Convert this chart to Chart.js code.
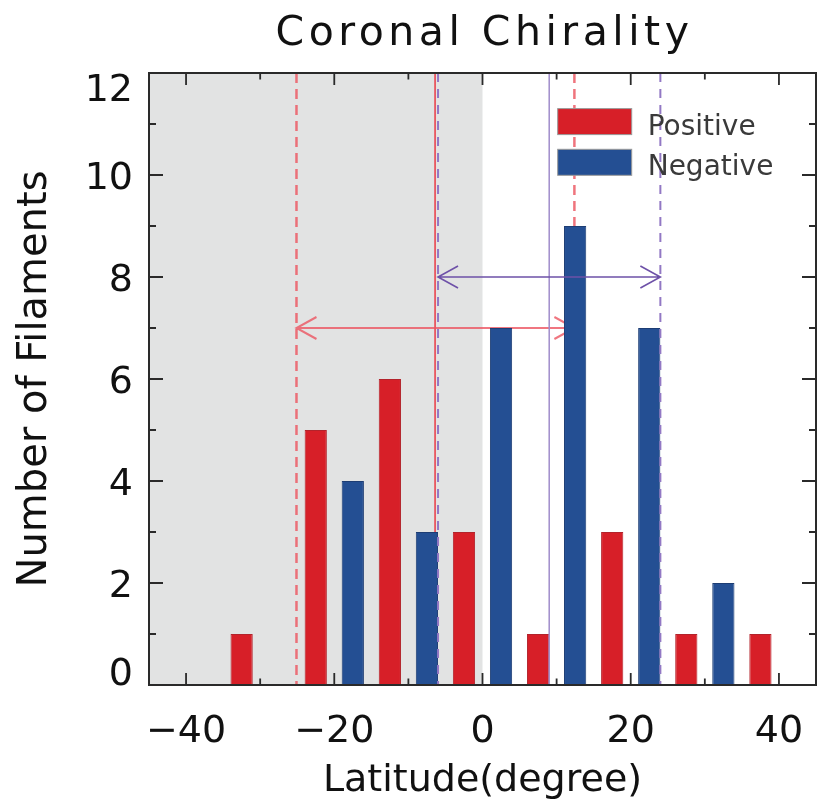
<!DOCTYPE html>
<html>
<head>
<meta charset="utf-8">
<script src="https://cdn.jsdelivr.net/npm/chart.js@4.4.0/dist/chart.umd.min.js"></script>
<style>
  html, body { margin: 0; padding: 0; background: #fff; }
</style>
</head>
<body>
<canvas id="chart" width="817" height="804"></canvas>
<script>
// histogram bars (bin centre in degrees, number of filaments)
const positiveLat = [-32.5, -22.5, -12.5, -2.5, 7.5, 17.5, 27.5, 37.5];
const positiveCount = [1, 5, 6, 3, 1, 3, 1, 1];
const negativeLat = [-17.5, -7.5, 2.5, 12.5, 22.5, 32.5];
const negativeCount = [4, 3, 7, 9, 7, 2];

// mean (solid) and spread (dashed + arrow) markers
const positiveMean = -6.4;
const positiveRange = [-25.1, 12.4];
const positiveArrowY = 7;
const negativeMean = 9.0;
const negativeRange = [-6.0, 24.0];
const negativeArrowY = 8;

// southern hemisphere shading
const southShade = [-45, 0];

const xMajorTicks = [-40, -20, 0, 20, 40];
const xMinorTicks = [-30, -10, 10, 30];
const yMajorTicks = [0, 2, 4, 6, 8, 10, 12];
const yMinorTicks = [1, 3, 5, 7, 9, 11];

const FONT = "'DejaVu Sans', sans-serif";
const RED = '#d71f28';
const BLUE = '#244f93';

function vline(ctx, area, x, color, width, dash) {
    ctx.save();
    ctx.strokeStyle = color;
    ctx.lineWidth = width;
    ctx.setLineDash(dash || []);
    ctx.beginPath();
    ctx.moveTo(x, area.top);
    ctx.lineTo(x, area.bottom);
    ctx.stroke();
    ctx.restore();
}

function arrow(ctx, x1, x2, y, color, width) {
    const hl = 20, hw = 11;
    ctx.save();
    ctx.strokeStyle = color;
    ctx.lineWidth = width;
    ctx.beginPath();
    ctx.moveTo(x1, y); ctx.lineTo(x2, y);
    ctx.moveTo(x1 + hl, y - hw); ctx.lineTo(x1, y); ctx.lineTo(x1 + hl, y + hw);
    ctx.moveTo(x2 - hl, y - hw); ctx.lineTo(x2, y); ctx.lineTo(x2 - hl, y + hw);
    ctx.stroke();
    ctx.restore();
}

const decor = {
    id: 'decor',
    beforeDatasetsDraw(chart) {
        const { ctx, chartArea: a, scales: { x, y } } = chart;
        // shaded band
        const s0 = x.getPixelForValue(southShade[0]);
        const s1 = x.getPixelForValue(southShade[1]);
        ctx.save();
        ctx.fillStyle = '#e2e3e3';
        ctx.fillRect(s0, a.top, s1 - s0, a.bottom - a.top);
        ctx.restore();

        // positive chirality markers (behind bars)
        positiveRange.forEach(v => vline(ctx, a, x.getPixelForValue(v), 'rgba(236,92,102,0.85)', 2.5, [10, 6]));
        vline(ctx, a, x.getPixelForValue(positiveMean), '#ea3a45', 1.5);
        arrow(ctx, x.getPixelForValue(positiveRange[0]), x.getPixelForValue(positiveRange[1]),
            y.getPixelForValue(positiveArrowY), 'rgba(236,84,96,0.8)', 2);
    },
    afterDatasetsDraw(chart) {
        const { ctx, chartArea: a, scales: { x, y } } = chart;

        // negative chirality markers (over bars)
        negativeRange.forEach(v => vline(ctx, a, x.getPixelForValue(v), '#9278c4', 2, [9, 7]));
        vline(ctx, a, x.getPixelForValue(negativeMean), '#a08dcb', 1.5);
        arrow(ctx, x.getPixelForValue(negativeRange[0]), x.getPixelForValue(negativeRange[1]),
            y.getPixelForValue(negativeArrowY), '#6e51a8', 1.6);

        ctx.save();
        // frame
        ctx.strokeStyle = '#2a2a2a';
        ctx.lineWidth = 2;
        ctx.strokeRect(a.left, a.top, a.right - a.left, a.bottom - a.top);

        // inward ticks on all four sides
        ctx.lineWidth = 1.8;
        ctx.beginPath();
        const xt = (v, len) => {
            const px = x.getPixelForValue(v);
            ctx.moveTo(px, a.bottom); ctx.lineTo(px, a.bottom - len);
            ctx.moveTo(px, a.top); ctx.lineTo(px, a.top + len);
        };
        const yt = (v, len) => {
            const py = y.getPixelForValue(v);
            ctx.moveTo(a.left, py); ctx.lineTo(a.left + len, py);
            ctx.moveTo(a.right, py); ctx.lineTo(a.right - len, py);
        };
        xMajorTicks.forEach(v => xt(v, 12));
        xMinorTicks.forEach(v => xt(v, 6.5));
        yMajorTicks.forEach(v => yt(v, 14));
        yMinorTicks.forEach(v => yt(v, 7));
        ctx.stroke();

        // y tick labels, kept inside the frame height
        ctx.fillStyle = '#111';
        ctx.font = `38px ${FONT}`;
        ctx.textAlign = 'right';
        ctx.textBaseline = 'alphabetic';
        const half = 0.729 * 38 / 2;
        yMajorTicks.forEach(v => {
            let cy = y.getPixelForValue(v);
            cy = Math.min(Math.max(cy, a.top + half), a.bottom - half);
            ctx.fillText(String(v), a.left - 16, cy + half);
        });

        // title
        ctx.textAlign = 'center';
        ctx.font = `41px ${FONT}`;
        ctx.letterSpacing = '4.5px';
        ctx.fillText('Coronal Chirality', (a.left + a.right) / 2 + 2, 45);
        ctx.letterSpacing = '0px';

        // legend
        const lx = a.right - 258.3;
        const rows = [a.top + 35.6, a.top + 76.3];
        ctx.font = `28px ${FONT}`;
        ctx.textAlign = 'left';
        chart.data.datasets.forEach((ds, i) => {
            ctx.fillStyle = ds.backgroundColor;
            ctx.fillRect(lx, rows[i], 74, 26);
            ctx.strokeStyle = '#9a9a9a';
            ctx.lineWidth = 1;
            ctx.strokeRect(lx, rows[i], 74, 26);
            ctx.fillStyle = '#3a3a3a';
            ctx.fillText(ds.label, lx + 90, rows[i] + 26);
        });
        ctx.restore();
    }
};

new Chart(document.getElementById('chart'), {
    type: 'bar',
    data: {
        datasets: [
            {
                label: 'Positive',
                data: positiveLat.map((v, i) => ({ x: v, y: positiveCount[i] })),
                backgroundColor: RED,
                borderColor: '#b3232b',
                borderWidth: 1
            },
            {
                label: 'Negative',
                data: negativeLat.map((v, i) => ({ x: v, y: negativeCount[i] })),
                backgroundColor: BLUE,
                borderColor: '#1d3d74',
                borderWidth: 1
            }
        ]
    },
    options: {
        responsive: false,
        animation: false,
        devicePixelRatio: 1,
        layout: { padding: { top: 73, right: 1, left: 0, bottom: 0 } },
        datasets: { bar: { grouped: false, barPercentage: 0.6, categoryPercentage: 1 } },
        plugins: { legend: { display: false }, tooltip: { enabled: false } },
        scales: {
            x: {
                type: 'linear',
                min: -45,
                max: 45,
                offset: false,
                grid: { display: false, drawTicks: false },
                border: { display: false },
                afterBuildTicks: s => { s.ticks = xMajorTicks.map(v => ({ value: v })); },
                afterFit: s => {
                    s.height = 119;
                    s.paddingLeft = 0;
                    s.paddingRight = 0;
                },
                ticks: {
                    color: '#111',
                    font: { family: FONT, size: 38 },
                    padding: 24,
                    maxRotation: 0,
                    autoSkip: false,
                    callback: v => String(v).replace('-', '\u2212')
                },
                title: {
                    display: true,
                    text: 'Latitude(degree)',
                    color: '#111',
                    font: { family: FONT, size: 38 },
                    padding: 0
                }
            },
            y: {
                min: 0,
                max: 12,
                grid: { display: false, drawTicks: false },
                border: { display: false },
                ticks: { display: false, stepSize: 2 },
                afterFit: s => { s.width = 149; },
                title: {
                    display: true,
                    text: 'Number of Filaments',
                    color: '#111',
                    font: { family: FONT, size: 40 },
                    padding: { top: 12, bottom: 0 }
                }
            }
        }
    },
    plugins: [decor]
});
</script>
</body>
</html>
